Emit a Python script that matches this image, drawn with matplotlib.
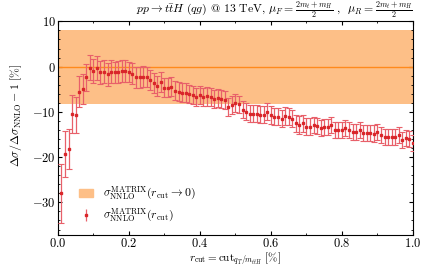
import matplotlib
matplotlib.use("Agg")
import matplotlib.pyplot as plt
from matplotlib.patches import Patch
from matplotlib.ticker import MultipleLocator
import numpy as np

plt.rcParams['font.family'] = 'serif'
plt.rcParams['font.serif'] = ['cmr10', 'DejaVu Serif']
plt.rcParams['mathtext.fontset'] = 'cm'
plt.rcParams['axes.formatter.use_mathtext'] = True
plt.rcParams['font.size'] = 8

# r_cut en %
r_cut = np.arange(1, 101) / 100.0

# deviation relative au NNLO (%)
delta = [
	-28.0, -19.3, -18.2, -10.4, -10.7, -5.5, -5.0, -2.4, -0.2, -1.0,
	-0.3, -1.3, -1.1, -1.7, -1.1, -1.3, -1.2, -0.9, -1.0, -1.2,
	-1.6, -2.4, -2.4, -2.2, -2.2, -2.9, -3.6, -4.3, -3.4, -4.7,
	-4.7, -4.4, -5.3, -5.6, -5.8, -5.8, -6.0, -6.2, -6.7, -6.3,
	-6.7, -6.6, -6.7, -7.1, -6.9, -7.1, -7.4, -8.9, -8.5, -8.0,
	-8.3, -9.5, -10.0, -10.4, -10.4, -10.4, -10.6, -10.6, -10.0, -10.7,
	-11.1, -11.1, -11.5, -10.9, -11.1, -11.5, -12.5, -12.9, -12.5, -13.3,
	-13.3, -12.9, -13.1, -13.6, -13.4, -13.3, -12.9, -14.0, -14.0, -14.0,
	-13.6, -14.0, -14.4, -14.4, -14.0, -14.7, -14.7, -14.7, -14.8, -14.5,
	-15.1, -15.5, -15.5, -15.5, -15.6, -15.1, -16.2, -15.8, -16.0, -16.9,
]

# incertitudes (%)
erreur = [
	6.5, 5.1, 4.5, 4.2, 4.0, 3.5, 3.3, 3.0, 2.8, 2.7,
	2.6, 2.6, 2.5, 2.5, 2.5, 2.4, 2.4, 2.4, 2.4, 2.3,
	2.3, 2.3, 2.3, 2.3, 2.2, 2.2, 2.2, 2.2, 2.2, 2.1,
	2.1, 2.1, 2.1, 2.1, 2.1, 2.1, 2.0, 2.0, 2.0, 2.0,
	2.0, 2.0, 2.0, 2.0, 2.0, 2.0, 2.0, 2.0, 2.0, 2.0,
	1.9, 1.9, 1.9, 1.9, 1.9, 1.9, 1.9, 1.9, 1.9, 1.9,
	1.9, 1.9, 1.9, 1.9, 1.9, 1.9, 1.9, 1.9, 1.9, 1.9,
	1.9, 1.8, 1.8, 1.8, 1.8, 1.8, 1.8, 1.8, 1.8, 1.8,
	1.8, 1.8, 1.8, 1.8, 1.8, 1.8, 1.8, 1.8, 1.8, 1.8,
	1.8, 1.8, 1.8, 1.8, 1.8, 1.8, 1.8, 1.8, 1.8, 1.8,
]

# extrapolation r_cut -> 0
centre = 0.0
bande = 8.2

fig = plt.figure(figsize=(4.45, 2.67), dpi=100)
ax = fig.add_axes([0.130, 0.12, 0.798, 0.80])

ax.axhspan(centre - bande, centre + bande, color='#fdbf87', lw=0, zorder=1)
ax.axhline(centre, color='#ff8a1c', lw=1.0, zorder=2)

ax.errorbar(r_cut, delta, yerr=erreur, fmt='s', ms=1.8, color='#d9262a',
	ecolor='#e8606a', elinewidth=0.9, capsize=2.0, capthick=0.8, zorder=3)

ax.set_xlim(0, 1)
ax.set_ylim(-37.2, 10)
ax.xaxis.set_major_locator(MultipleLocator(0.2))
ax.xaxis.set_minor_locator(MultipleLocator(0.1))
ax.yaxis.set_major_locator(MultipleLocator(10))
ax.yaxis.set_minor_locator(MultipleLocator(2))
ax.tick_params(which='both', direction='in', top=True, right=True, labelsize=9, pad=1.5)
ax.tick_params(which='major', length=3)
ax.tick_params(which='minor', length=1.5)

ax.set_xlabel(r'$r_{\rm cut} = {\rm cut}_{q_T/m_{t\bar{t}H}}\ [\%]$', fontsize=8, labelpad=0)
ax.set_ylabel(r'$\Delta\sigma/\Delta\sigma_{\rm NNLO} - 1\ [\%]$', fontsize=8.5)
ax.yaxis.set_label_coords(-0.095, 0.56)
ax.set_title(r'$pp \to t\bar{t}H\ (qg)$ @ 13 TeV, $\mu_F = \frac{2m_t+m_H}{2}$ ,  $\mu_R = \frac{2m_t+m_H}{2}$',
	loc='right', fontsize=8.5, pad=2)

handles = [Patch(color='#fdbf87'),
	ax.errorbar([], [], yerr=[], fmt='s', ms=1.8, color='#d9262a', ecolor='#e8606a',
		elinewidth=0.9, capsize=2.0, capthick=0.8)]
labels = [r'$\sigma^{\rm MATRIX}_{\rm NNLO}(r_{\rm cut}\to 0)$', r'$\sigma^{\rm MATRIX}_{\rm NNLO}(r_{\rm cut})$']
ax.legend(handles, labels, loc='lower left', frameon=False, fontsize=8.5,
	bbox_to_anchor=(0.03, 0.0), handlelength=1.2, labelspacing=0.4)

fig.savefig('out.png', dpi=100)
